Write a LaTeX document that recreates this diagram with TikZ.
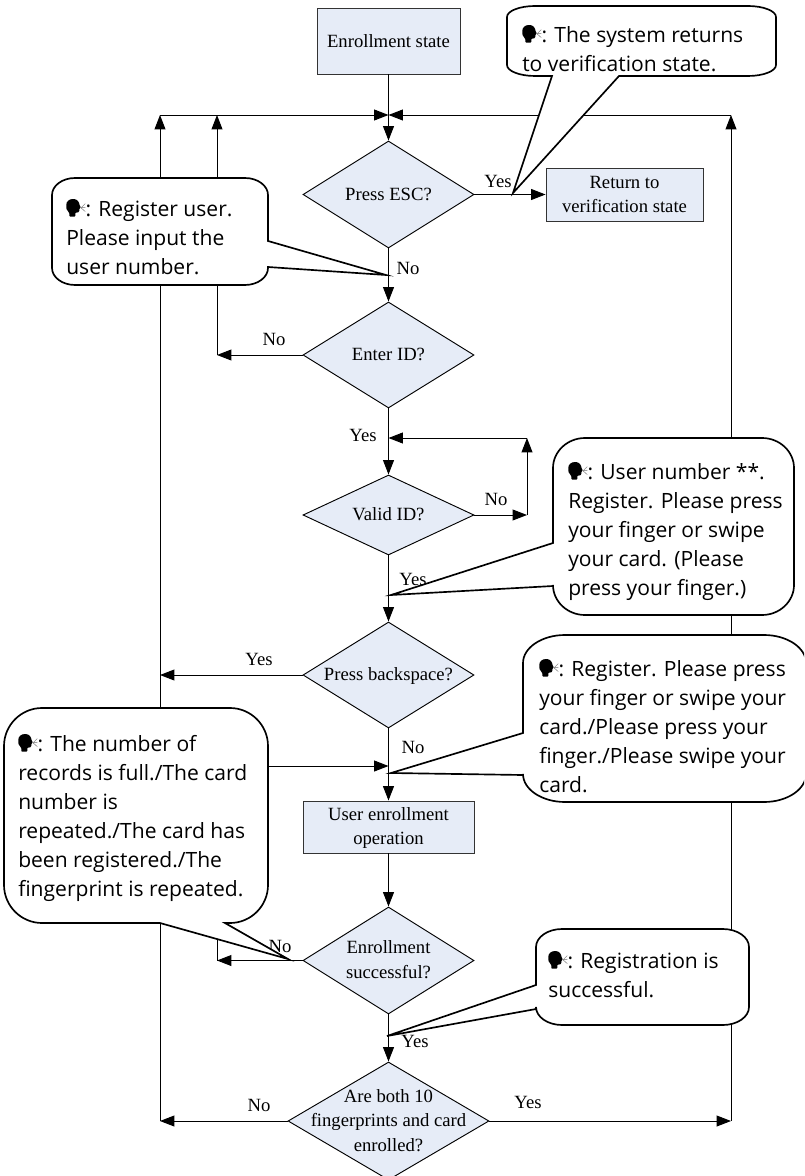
\documentclass[tikz,border=0pt]{standalone}
\usepackage{fontspec}
\usetikzlibrary{shapes.geometric,arrows.meta}
\setmainfont{Liberation Serif}
\newfontfamily\bubfont{Open Sans}
\newcommand{\spk}{\smash{\tikz[baseline=0pt,x=.75pt,y=.75pt]{%
  \fill[black,rounded corners=.6pt] (3,0) -- (3,4) .. controls (0,6) and (0,9) .. (0,11) .. controls (0,15) and (3,17.5) .. (7,17.5) .. controls (11,17.5) and (13,14) .. (13,12) -- (14.7,8.8) -- (13,8) -- (13,5) -- (11.5,4) -- (9,4) -- (9,0) -- cycle;
  \draw[black!55,line width=.35pt] (15,9) -- (19,13) (15.5,9) -- (19,9) (15,8.5) -- (19,5);
 }}}
\definecolor{boxfill}{HTML}{E6ECF7}
\newcommand{\dtext}[1]{\raisebox{-.6em}{\smash{\makebox[0pt]{\setlength{\tabcolsep}{0pt}\renewcommand{\arraystretch}{1.05}\begin{tabular}{c}#1\end{tabular}}}}}
% x1 y1 x2 y2 rx ry righttail bottomtail lefttail
\newcommand{\bubble}[9]{%
 \draw[bubbleline] ({#1+#5},#2) -- ({#3-#5},#2)
  .. controls ({#3-.45*#5},#2) and (#3,{#2+.45*#6}) .. (#3,{#2+#6})
  #7 -- (#3,{#4-#6})
  .. controls (#3,{#4-.45*#6}) and ({#3-.45*#5},#4) .. ({#3-#5},#4)
  #8 -- ({#1+#5},#4)
  .. controls ({#1+.45*#5},#4) and (#1,{#4-.45*#6}) .. (#1,{#4-#6})
  #9 -- (#1,{#2+#6})
  .. controls (#1,{#2+.45*#6}) and ({#1+.45*#5},#2) .. ({#1+#5},#2) -- cycle;}
\tikzset{
 x=.75pt,y=-.75pt,
 bubbleline/.style={draw=black,fill=white,line width=1.25pt,line join=miter},
 box/.style={draw=black!80,fill=boxfill,line width=.7pt,inner sep=0pt,align=center,font=\fontsize{14}{17.5}\selectfont},
 dia/.style={diamond,draw=black,fill=boxfill,line width=.7pt,inner sep=0pt,font=\fontsize{14}{17.5}\selectfont},
 flow/.style={draw=black,line width=.7pt},
 arr/.style={flow,-{Triangle[length=10.8pt,width=8.2pt]}},
 lab/.style={inner sep=0pt,font=\fontsize{14}{17.5}\selectfont},
 bubtext/.style={inner sep=0pt,anchor=north west,align=left,font=\bubfont\fontsize{15.8}{21.75}\selectfont},
}
\begin{document}
\begin{tikzpicture}
\useasboundingbox (0,0) rectangle (804,1176);
\clip (0,0) rectangle (804,1176);
% nodes
\node[box,minimum width=107.25pt,minimum height=49.5pt] (enroll) at (388.5,41) {Enrollment state};
\node[dia,minimum width=128.25pt,minimum height=80.25pt] (esc) at (388.5,194.5) {\dtext{Press ESC?}};
\node[box,minimum width=117.75pt,minimum height=39.75pt] (ret) at (624.5,194.5) {Return to\\verification state};
\node[dia,minimum width=128.25pt,minimum height=79.5pt] (enter) at (388.5,355) {\dtext{Enter ID?}};
\node[dia,minimum width=128.25pt,minimum height=60pt] (valid) at (388.5,515) {\dtext{Valid ID?}};
\node[dia,minimum width=128.25pt,minimum height=79.5pt] (back) at (388.5,675) {\dtext{Press backspace?}};
\node[box,minimum width=128.25pt,minimum height=39pt] (user) at (388.5,827) {\dtext{User enrollment\\operation}};
\node[dia,minimum width=128.25pt,minimum height=80.25pt] (succ) at (388.5,960.5) {\dtext{Enrollment\\successful?}};
\node[dia,minimum width=150.75pt,minimum height=88.5pt] (both) at (388.5,1121) {\dtext{Are both 10\\fingerprints and card\\enrolled?}};
% junctions
\coordinate (jtop) at (388.5,115);
\coordinate (ja) at (160,115);
\coordinate (jb) at (217,115);
\coordinate (jr) at (731,115);
\coordinate (ya) at (388.5,438);
\coordinate (yr) at (527,438);
\coordinate (vr) at (527,515);
\coordinate (la) at (217,355);
\coordinate (lb) at (160,675);
\coordinate (lc) at (217,960.5);
\coordinate (ld) at (217,766);
\coordinate (le) at (388.5,766);
\coordinate (bl) at (160,1121);
\coordinate (br) at (731,1121);
% connectors
\draw[arr] (enroll) -- (esc);
\draw[arr] (esc) -- (ret);
\draw[arr] (esc) -- (enter);
\draw[arr] (enter) -- (valid);
\draw[arr] (valid) -- (back);
\draw[arr] (back) -- (user);
\draw[arr] (user) -- (succ);
\draw[arr] (succ) -- (both);
\draw[arr] (ja) -- (jtop);
\draw[arr] (jr) -- (jtop);
\draw[arr] (la) -- (jb);
\draw[arr] (enter) -- (la);
\draw[arr] (valid) -- (vr);
\draw[arr] (vr) -- (yr);
\draw[arr] (yr) -- (ya);
\draw[arr] (back) -- (lb);
\draw[arr] (succ.west) -- (lc);
\draw[arr] (lc) -- (ld) -- (le);
\draw[arr] (both) -- (bl);
\draw[arr] (bl) -- (ja);
\draw[arr] (both) -- (br);
\draw[arr] (br) -- (jr);
% labels
\node[lab] (l1) at (498,181) {Yes};
\node[lab] (l2) at (408,268) {No};
\node[lab] (l3) at (274,339) {No};
\node[lab] (l4) at (363,435) {Yes};
\node[lab] (l5) at (496,499) {No};
\node[lab] (l6) at (413,579) {Yes};
\node[lab] (l7) at (259,659) {Yes};
\node[lab] (l8) at (413,747) {No};
\node[lab] (l9) at (280,946) {No};
\node[lab] (l10) at (415,1041) {Yes};
\node[lab] (l11) at (259,1105) {No};
\node[lab] (l12) at (528,1102) {Yes};
% bubbles
\bubble{507}{6}{776}{76}{28}{11}{}{-- (619,76) -- (513,193) -- (552,76)}{}
\node[bubtext] (t1) at (522,22) {\strut\spk: The system returns\\to verification state.};
\bubble{52}{178}{268}{285}{23}{17}{-- (268,241) -- (386,275) -- (268,267)}{}{}
\node[bubtext] (t2) at (66,196) {\strut\spk: Register user.\\Please input the\\user number.};
\bubble{553}{438}{794}{615}{32}{30}{}{}{-- (553,586) -- (391,595) -- (553,543)}
\node[bubtext] (t3) at (568,459) {\strut\spk: User number **.\\Register. Please press\\your finger or swipe\\your card. (Please\\press your finger.)};
\bubble{523}{635}{806}{802}{42}{28}{}{}{-- (523,775) -- (391,773) -- (523,733)}
\node[bubtext] (t4) at (539,656) {\strut\spk: Register. Please press\\your finger or swipe your\\card./Please press your\\finger./Please swipe your\\card.};
\bubble{4}{708}{268}{923}{38}{38}{}{-- (225,923) -- (288,959) -- (160,923)}{}
\node[bubtext] (t5) at (18,731) {\strut\spk: The number of\\records is full./The card\\number is\\repeated./The card has\\been registered./The\\fingerprint is repeated.};
\bubble{536}{929}{749}{1025}{26}{18}{}{}{-- (536,1009) -- (387,1036) -- (536,985)}
\node[bubtext] (t6) at (548,948) {\strut\spk: Registration is\\successful.};
\end{tikzpicture}
\end{document}
